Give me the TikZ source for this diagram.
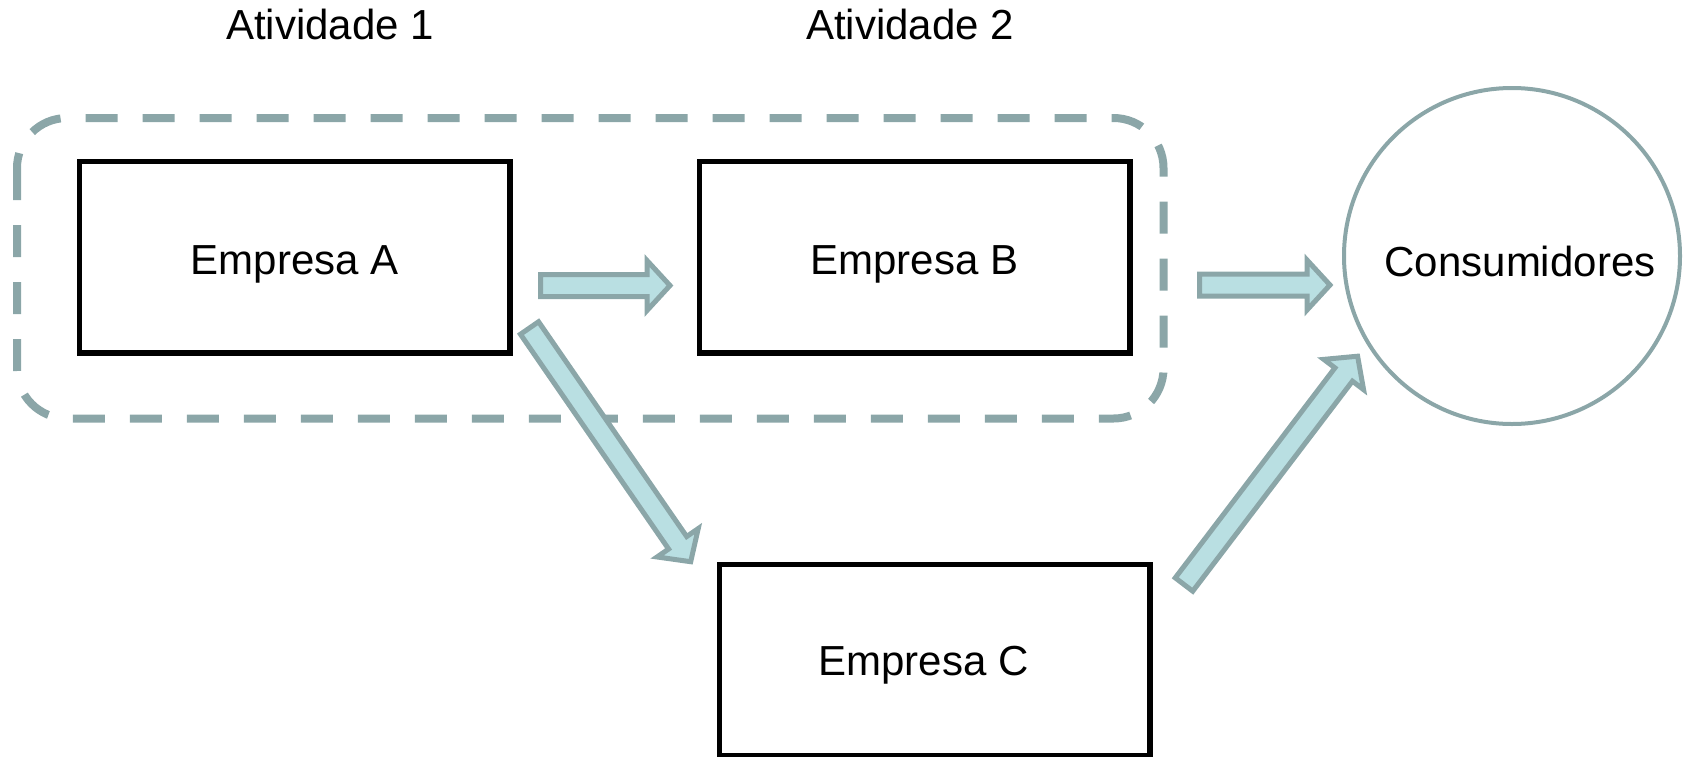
\documentclass[tikz,border=0pt]{standalone}
\usepackage{fontspec}
\setmainfont{Liberation Sans}
\usetikzlibrary{calc}
\definecolor{edgegray}{HTML}{8BA6A8}
\definecolor{arrowfill}{HTML}{B9DFE2}
\tikzset{
  lbl/.style={font=\fontsize{42}{50}\selectfont, text height=34pt, text depth=0pt, inner sep=0pt},
  firm/.style={lbl, draw=black, line width=5.5pt, minimum width=430.5pt, minimum height=191.5pt},
  market/.style={draw=edgegray, line width=4pt, circle, minimum size=336pt, inner sep=0pt},
  group/.style={draw=edgegray, line width=8pt, dash pattern=on 32pt off 25pt, rounded corners=50pt},
  barrow/.style={draw=edgegray, fill=arrowfill, line width=5pt, line join=miter},
}
% block arrow from #1 (tail) to #2 (tip)
\newcommand\blkarrow[2]{%
  \draw[barrow]
    ($(#1)!11pt!90:(#2)$)
    -- ($(#2)!23pt!(#1)!11pt!-90:(#1)$)
    -- ($(#2)!23pt!(#1)!25pt!-90:(#1)$)
    -- (#2)
    -- ($(#2)!23pt!(#1)!25pt!90:(#1)$)
    -- ($(#2)!23pt!(#1)!11pt!90:(#1)$)
    -- ($(#1)!11pt!-90:(#2)$)
    -- cycle;}
\begin{document}
\begin{tikzpicture}[x=1pt, y=-1pt]
  \useasboundingbox (0,0) rectangle (1687,756);
  \clip (0,0) rectangle (1687,756);

  % labels
  \node[lbl] (act1) at (330,22) {Atividade 1};
  \node[lbl] (act2) at (910,22) {Atividade 2};

  % grouping of activities
  \draw[group] (17,118) rectangle (1163.5,418.5);

  % firms and consumers
  \node[firm] (A) at (294.75,257.25) {Empresa A};
  \node[firm] (B) at (914.5,257.25) {Empresa B};
  \node[firm] (C) at (934.5,660.25) {};
  \node[lbl] (Ctext) at ($(C)+(-11,-2)$) {Empresa C};
  \node[market] (D) at (1512,256) {};
  \node[lbl] (Dtext) at ($(D)+(8,3)$) {Consumidores};

  % arrow end points
  \coordinate (abS) at (540.5,285.5);
  \coordinate (abE) at (670,285.5);
  \coordinate (bdS) at (1199.5,285);
  \coordinate (bdE) at (1330,285);
  \coordinate (acS) at (529.5,328);
  \coordinate (acE) at (690.7,561.7);
  \coordinate (cdS) at (1184,584.5);
  \coordinate (cdE) at (1357.6,356.2);

  \blkarrow{abS}{abE}
  \blkarrow{bdS}{bdE}
  \blkarrow{acS}{acE}
  \blkarrow{cdS}{cdE}
\end{tikzpicture}
\end{document}
